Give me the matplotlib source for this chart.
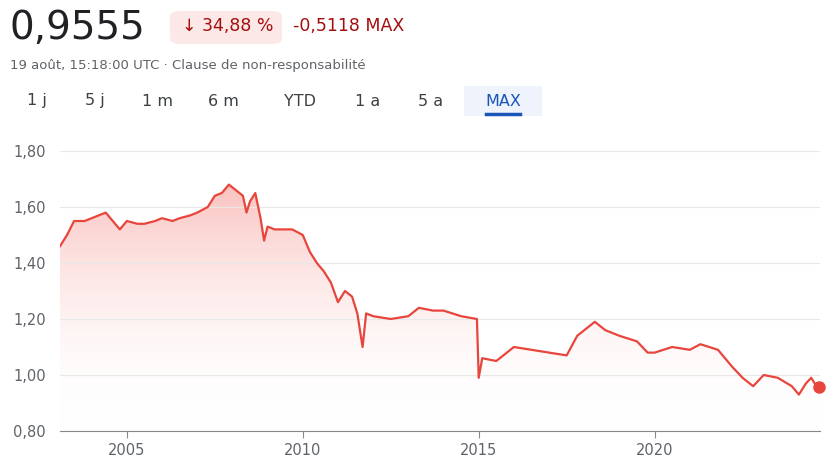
import matplotlib
matplotlib.use("Agg")
import matplotlib.pyplot as plt
from matplotlib.patches import FancyBboxPatch
import numpy as np

years = [2003.1,2003.3,2003.5,2003.8,2004.0,2004.4,2004.6,2004.8,2005.0,2005.3,2005.5,2005.8,2006.0,2006.3,2006.5,2006.8,2007.0,2007.3,2007.5,2007.7,2007.9,2008.1,2008.3,2008.4,2008.5,2008.65,2008.8,2008.9,2009.0,2009.2,2009.5,2009.7,2010.0,2010.2,2010.4,2010.6,2010.8,2011.0,2011.2,2011.4,2011.55,2011.7,2011.8,2012.0,2012.5,2013.0,2013.3,2013.7,2014.0,2014.5,2014.95,2015.0,2015.1,2015.5,2016.0,2016.5,2017.0,2017.5,2017.8,2018.0,2018.3,2018.6,2019.0,2019.5,2019.8,2020.0,2020.5,2021.0,2021.3,2021.8,2022.0,2022.2,2022.5,2022.8,2023.1,2023.5,2023.9,2024.1,2024.3,2024.45,2024.6,2024.66]
values = [1.46,1.50,1.55,1.55,1.56,1.58,1.55,1.52,1.55,1.54,1.54,1.55,1.56,1.55,1.56,1.57,1.58,1.60,1.64,1.65,1.68,1.66,1.64,1.58,1.62,1.65,1.56,1.48,1.53,1.52,1.52,1.52,1.50,1.44,1.40,1.37,1.33,1.26,1.30,1.28,1.22,1.10,1.22,1.21,1.20,1.21,1.24,1.23,1.23,1.21,1.20,0.99,1.06,1.05,1.10,1.09,1.08,1.07,1.14,1.16,1.19,1.16,1.14,1.12,1.08,1.08,1.10,1.09,1.11,1.09,1.06,1.03,0.99,0.96,1.00,0.99,0.96,0.93,0.97,0.99,0.96,0.9555]
yticks = [0.80,1.00,1.20,1.40,1.60,1.80]
xticks = [2005,2010,2015,2020]
tabs = ["1 j","5 j","1 m","6 m","YTD","1 a","5 a","MAX"]

W,H = 834,471
fig = plt.figure(figsize=(W/100,H/100),dpi=100)
ax = fig.add_axes([60/W,1-431/H,760/W,(431-151)/H])
red = "#e8453c"
ax.plot(years,values,color=red,lw=1.6,zorder=3)
ax.plot([years[-1]],[values[-1]],'o',color=red,ms=8,zorder=4,clip_on=False)
x = np.array(years); y = np.array(values)
grad = np.linspace(0,1,256).reshape(-1,1)
from matplotlib.colors import LinearSegmentedColormap
cmap = LinearSegmentedColormap.from_list("g",[(1,1,1,0),(0.95,0.45,0.42,0.45)])
im = ax.imshow(grad,extent=[2003.1,2024.7,0.8,1.70],origin='lower',aspect='auto',cmap=cmap,zorder=1)
poly = ax.fill_between(x,y,0.8,facecolor='none',edgecolor='none')
im.set_clip_path(poly.get_paths()[0],transform=ax.transData)
ax.set_xlim(2003.1,2024.7); ax.set_ylim(0.8,1.8)
ax.set_yticks(yticks)
ax.set_yticklabels([f"{v:.2f}".replace('.',',') for v in yticks])
ax.set_xticks(xticks)
ax.grid(axis='y',color='#e8e8e8',lw=0.8)
for s in ['top','right','left']: ax.spines[s].set_visible(False)
ax.spines['bottom'].set_color('#888888')
ax.tick_params(axis='y',length=0,pad=10,labelcolor='#5f6368',labelsize=10.5)
ax.tick_params(axis='x',length=5,color='#888888',labelcolor='#5f6368',labelsize=10.5)
fig.text(10/W,1-28/H,"0,9555",fontsize=28,color='#202124',va='center')
fig.patches.append(FancyBboxPatch((170/W,1-44/H),112/W,33/H,boxstyle="round,pad=0,rounding_size=0.012",transform=fig.transFigure,facecolor='#fce8e6',edgecolor='none'))
fig.text(182/W,1-26/H,"↓ 34,88 %",fontsize=12.5,color='#a50e0e',va='center')
fig.text(293/W,1-26/H,"-0,5118 MAX",fontsize=12.5,color='#a50e0e',va='center')
fig.text(10/W,1-66/H,"19 août, 15:18:00 UTC · Clause de non-responsabilité",fontsize=9.5,color='#5f6368',va='center')
tx = [37,95,158,223,300,368,431,503]
fig.patches.append(FancyBboxPatch((464/W,1-116/H),78/W,30/H,boxstyle="square,pad=0",transform=fig.transFigure,facecolor='#eef3fc',edgecolor='none'))
for t,xx in zip(tabs,tx):
    c = '#1a56b8' if t=="MAX" else '#3c4043'
    fig.text(xx/W,1-101/H,t,fontsize=11.5,color=c,ha='center',va='center')
fig.add_artist(plt.Line2D([486/W,520/W],[1-114/H,1-114/H],color='#1a56b8',lw=2.5))
fig.savefig("out.png",dpi=100,facecolor='white')
